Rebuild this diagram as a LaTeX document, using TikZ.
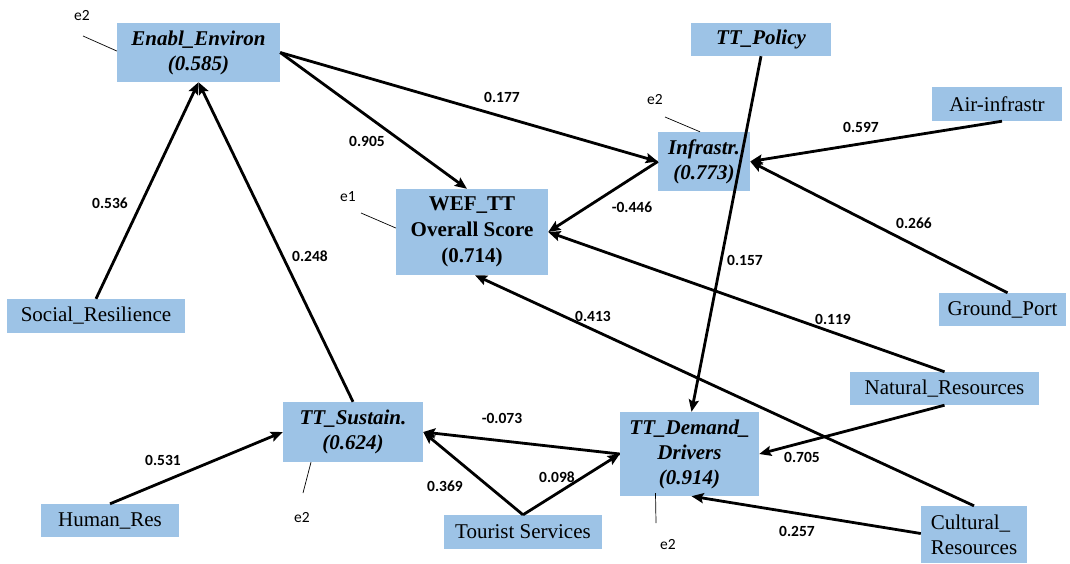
\documentclass[tikz,border=0pt]{standalone}
\usepackage{fontspec}
\setmainfont{Liberation Serif}
\newfontfamily\labfont{Carlito}
\usetikzlibrary{arrows.meta}
\definecolor{boxblue}{RGB}{157,195,230}
\begin{document}
\begin{tikzpicture}[x=1pt,y=-1pt,
  box/.style={fill=boxblue,draw=none,inner sep=0pt,align=center,font=\fontsize{21}{25}\selectfont},
  latent/.style={box,font=\fontsize{21}{25}\selectfont\bfseries\itshape},
  edge/.style={line width=2.8pt,-{Stealth[length=12pt,width=10pt,inset=2pt]}},
  plain/.style={line width=2.8pt},
  eline/.style={line width=0.7pt},
  lab/.style={font=\labfont\fontsize{15.5}{18}\selectfont\bfseries,inner sep=0pt},
  elab/.style={font=\labfont\fontsize{15.5}{18}\selectfont,inner sep=0pt}]
\useasboundingbox[fill=white] (0,0) rectangle (1070,563);
% nodes
\node[latent,minimum width=163pt,minimum height=59pt] (env) at (198.5,52.5) {Enabl\_Environ\\(0.585)};
\node[box,font=\fontsize{21}{26}\selectfont\bfseries,minimum width=152pt,minimum height=86pt] (wef) at (472,232) {WEF\_TT\\Overall Score\\(0.714)};
\node[latent,minimum width=92pt,minimum height=59pt] (inf) at (704,161.5) {Infrastr.\\(0.773)};
\node[latent,minimum width=140pt,minimum height=33pt] (pol) at (761,39.5) {TT\_Policy};
\node[box,minimum width=130pt,minimum height=34pt] (air) at (997,104) {Air-infrastr};
\node[box,minimum width=127pt,minimum height=33pt] (gp) at (1002.5,309.5) {Ground\_Port};
\node[box,minimum width=178pt,minimum height=34pt] (sr) at (96,316) {Social\_Resilience};
\node[latent,minimum width=140pt,minimum height=60pt] (sus) at (353,432) {TT\_Sustain.\\(0.624)};
\node[box,minimum width=138pt,minimum height=33pt] (hr) at (110,520.5) {Human\_Res};
\node[box,minimum width=158pt,minimum height=34pt] (ts) at (523,532) {Tourist Services};
\node[latent,minimum width=139pt,minimum height=84pt] (dem) at (689.5,454) {TT\_Demand\_\\Drivers\\(0.914)};
\node[box,minimum width=189pt,minimum height=33pt] (nr) at (944.5,388.5) {Natural\_Resources};
\node[box,align=left,minimum width=106pt,minimum height=57pt] (cr) at (974,534.5) {Cultural\_\\Resources};
% connectors
\draw[edge] (env.east) -- ([xshift=-5pt]wef.north);
\draw[edge] (env.east) -- (inf.west);
\draw[edge] (inf.west) -- (wef.east);
\draw[edge] (sr.north) -- (env.south);
\draw[edge] (sus.north) -- (env.south);
\draw[edge] (hr.north) -- (sus.west);
\draw[edge] (dem.west) -- (sus.east);
\draw[edge] (ts.north) -- (sus.east);
\draw[edge] (ts.north) -- (dem.west);
\draw[edge] (pol.south) -- ([xshift=2pt]dem.north);
\draw[edge] ([xshift=5pt]air.south) -- (inf.east);
\draw[edge] ([xshift=5pt]gp.north) -- (inf.east);
\draw[edge] (nr.north) -- (wef.east);
\draw[edge] (nr.south) -- (dem.east);
\draw[edge] (cr.north) -- ([xshift=3pt]wef.south);
\draw[edge] ([yshift=1pt]cr.west) -- ([xshift=2pt]dem.south);
% coefficient labels
\node[lab] (l536) at (110,203) {0.536};
\node[lab] (l248) at (310,256) {0.248};
\node[lab] (l905) at (367,141) {0.905};
\node[lab] (l177) at (502,97) {0.177};
\node[lab] (l446) at (632,207) {-0.446};
\node[lab] (l597) at (861,127) {0.597};
\node[lab] (l266) at (914,223) {0.266};
\node[lab] (l157) at (745,260) {0.157};
\node[lab] (l119) at (833,319) {0.119};
\node[lab] (l413) at (593,316) {0.413};
\node[lab] (l073) at (502,418) {-0.073};
\node[lab] (l369) at (445,486) {0.369};
\node[lab] (l098) at (557,477) {0.098};
\node[lab] (l531) at (163,460) {0.531};
\node[lab] (l705) at (802,457) {0.705};
\node[lab] (l257) at (797,531) {0.257};
% error terms
\node[elab] (eenv) at (82,16) {e2};
\coordinate (eenvc) at (83,36);
\draw[eline] (eenvc) -- ([yshift=1.5pt]env.west);
\node[elab] (ewef) at (348,197) {e1};
\coordinate (ewefc) at (361,213);
\draw[eline] (ewefc) -- ([yshift=4pt]wef.west);
\node[elab] (einf) at (655,100) {e2};
\coordinate (einfc) at (665,117);
\draw[eline] (einfc) -- ([xshift=-4pt]inf.north);
\node[elab] (esus) at (302,518) {e2};
\coordinate (esusc) at (303,493);
\draw[eline] (esusc) -- ([xshift=-42pt]sus.south);
\node[elab] (edem) at (668,545) {e2};
\coordinate (edemc) at (656,523);
\draw[eline] (edemc) -- ([xshift=-34pt,yshift=3pt]dem.south);
\end{tikzpicture}
\end{document}
